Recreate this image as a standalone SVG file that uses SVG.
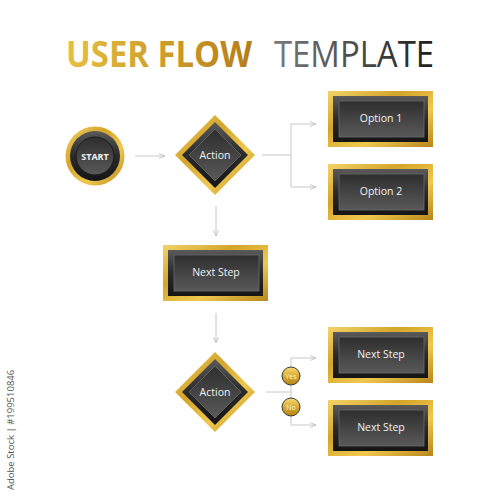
<svg xmlns="http://www.w3.org/2000/svg" width="500" height="500" viewBox="0 0 500 500">
<defs>
<linearGradient id="gold" x1="0" y1="0" x2="1" y2="1">
<stop offset="0" stop-color="#f3d36a"/><stop offset="0.35" stop-color="#d4a52a"/><stop offset="0.65" stop-color="#f0c84e"/><stop offset="1" stop-color="#b8861c"/>
</linearGradient>
<linearGradient id="goldV" x1="0" y1="0" x2="0" y2="1">
<stop offset="0" stop-color="#f6dc78"/><stop offset="0.5" stop-color="#d9aa30"/><stop offset="1" stop-color="#b58418"/>
</linearGradient>
<linearGradient id="dark" x1="0" y1="0" x2="0" y2="1">
<stop offset="0" stop-color="#5a5a5a"/><stop offset="0.5" stop-color="#2a2a2a"/><stop offset="1" stop-color="#151515"/>
</linearGradient>
<linearGradient id="panel" x1="0" y1="0" x2="0" y2="1">
<stop offset="0" stop-color="#2e2e2e"/><stop offset="1" stop-color="#595959"/>
</linearGradient>
<linearGradient id="titleGold" x1="0" y1="0" x2="1" y2="0">
<stop offset="0" stop-color="#e6c040"/><stop offset="1" stop-color="#b57d18"/>
</linearGradient>
<linearGradient id="titleGray" x1="0" y1="0" x2="1" y2="0">
<stop offset="0" stop-color="#7a7a7a"/><stop offset="1" stop-color="#1e1e1e"/>
</linearGradient>
<marker id="arr" viewBox="0 0 6 6" refX="6" refY="3" markerWidth="6" markerHeight="6" orient="auto" markerUnits="userSpaceOnUse">
<path d="M0,0.5 L6,3 L0,5.5" fill="none" stroke="#bbbbbb" stroke-width="0.8"/>
</marker>
<style>
.lbl{font-family:"Open Sans","Noto Sans","Liberation Sans",sans-serif;font-size:10.5px;fill:#f2f2f2;text-anchor:middle;dominant-baseline:central}
.bold{font-weight:bold;font-size:9px}
.conn{fill:none;stroke:#c8c8c8;stroke-width:1}
.frame{fill:url(#gold)}
.body{fill:url(#dark)}
.inner{fill:url(#panel);stroke:#6a6a6a;stroke-width:0.8}
.small{font-family:"Open Sans","Noto Sans","Liberation Sans",sans-serif;font-size:7px;fill:#fff6d8;text-anchor:middle;dominant-baseline:central}
</style>
</defs>
<rect width="500" height="500" fill="#ffffff"/>
<g id="title">
<text x="66" y="67" font-family="'Open Sans','Noto Sans',sans-serif" font-weight="bold" font-size="36" fill="url(#titleGold)" textLength="186" lengthAdjust="spacingAndGlyphs">USER FLOW</text>
<text x="274" y="67" font-family="'Open Sans','Noto Sans',sans-serif" font-size="36" fill="url(#titleGray)" textLength="160" lengthAdjust="spacingAndGlyphs">TEMPLATE</text>
</g>
<g id="connectors">
<line class="conn" x1="135" y1="156" x2="165" y2="156" marker-end="url(#arr)"/>
<polyline class="conn" points="262,155 291,155"/>
<polyline class="conn" points="291,124 291,187"/>
<line class="conn" x1="291" y1="124" x2="316" y2="124" marker-end="url(#arr)"/>
<line class="conn" x1="291" y1="187" x2="316" y2="187" marker-end="url(#arr)"/>
<line class="conn" x1="216" y1="206" x2="216" y2="236" marker-end="url(#arr)"/>
<line class="conn" x1="216" y1="313" x2="216" y2="343" marker-end="url(#arr)"/>
<polyline class="conn" points="266,392 291,392"/>
<polyline class="conn" points="291,358 291,425"/>
<line class="conn" x1="291" y1="358" x2="316" y2="358" marker-end="url(#arr)"/>
<line class="conn" x1="291" y1="425" x2="316" y2="425" marker-end="url(#arr)"/>
</g>
<g id="start">
<circle cx="95" cy="156" r="29.5" fill="url(#gold)"/>
<circle cx="95" cy="156" r="25" fill="url(#dark)"/>
<circle cx="95" cy="156" r="19" fill="url(#panel)" stroke="#1a1a1a" stroke-width="1"/>
<text class="lbl bold" x="95" y="156">START</text>
</g>
<g id="action1">
<polygon class="frame" points="215,115 255,155 215,195 175,155"/>
<polygon class="body" points="215,122 248,155 215,188 182,155"/>
<polygon class="inner" points="215,129 241,155 215,181 189,155"/>
<text class="lbl" x="215" y="155">Action</text>
</g>
<g id="option1">
<rect class="frame" x="328" y="91" width="105" height="56"/>
<rect class="body" x="333" y="96" width="95" height="46"/>
<rect class="inner" x="339" y="101" width="85" height="36"/>
<text class="lbl" x="381" y="118">Option 1</text>
</g>
<g id="option2">
<rect class="frame" x="328" y="164" width="105" height="56"/>
<rect class="body" x="333" y="169" width="95" height="46"/>
<rect class="inner" x="339" y="174" width="85" height="36"/>
<text class="lbl" x="381" y="191">Option 2</text>
</g>
<g id="nextstep1">
<rect class="frame" x="163" y="245" width="105" height="56"/>
<rect class="body" x="168" y="250" width="95" height="46"/>
<rect class="inner" x="174" y="255" width="85" height="36"/>
<text class="lbl" x="216" y="272">Next Step</text>
</g>
<g id="action2">
<polygon class="frame" points="215,352 255,392 215,432 175,392"/>
<polygon class="body" points="215,359 248,392 215,425 182,392"/>
<polygon class="inner" points="215,366 241,392 215,418 189,392"/>
<text class="lbl" x="215" y="392">Action</text>
</g>
<g id="yes">
<circle cx="291" cy="376" r="9" fill="url(#goldV)" stroke="#3a3a3a" stroke-width="1"/>
<text class="small" x="291" y="376">Yes</text>
</g>
<g id="no">
<circle cx="291" cy="407" r="9" fill="url(#goldV)" stroke="#3a3a3a" stroke-width="1"/>
<text class="small" x="291" y="407">No</text>
</g>
<g id="nextstep2">
<rect class="frame" x="328" y="327" width="105" height="56"/>
<rect class="body" x="333" y="332" width="95" height="46"/>
<rect class="inner" x="339" y="337" width="85" height="36"/>
<text class="lbl" x="381" y="354">Next Step</text>
</g>
<g id="nextstep3">
<rect class="frame" x="328" y="400" width="105" height="56"/>
<rect class="body" x="333" y="405" width="95" height="46"/>
<rect class="inner" x="339" y="410" width="85" height="36"/>
<text class="lbl" x="381" y="427">Next Step</text>
</g>
<text x="14" y="490" transform="rotate(-90 14 490)" font-family="'Open Sans','Noto Sans',sans-serif" font-size="9.5" fill="#555555">Adobe Stock | #199510846</text>
</svg>
